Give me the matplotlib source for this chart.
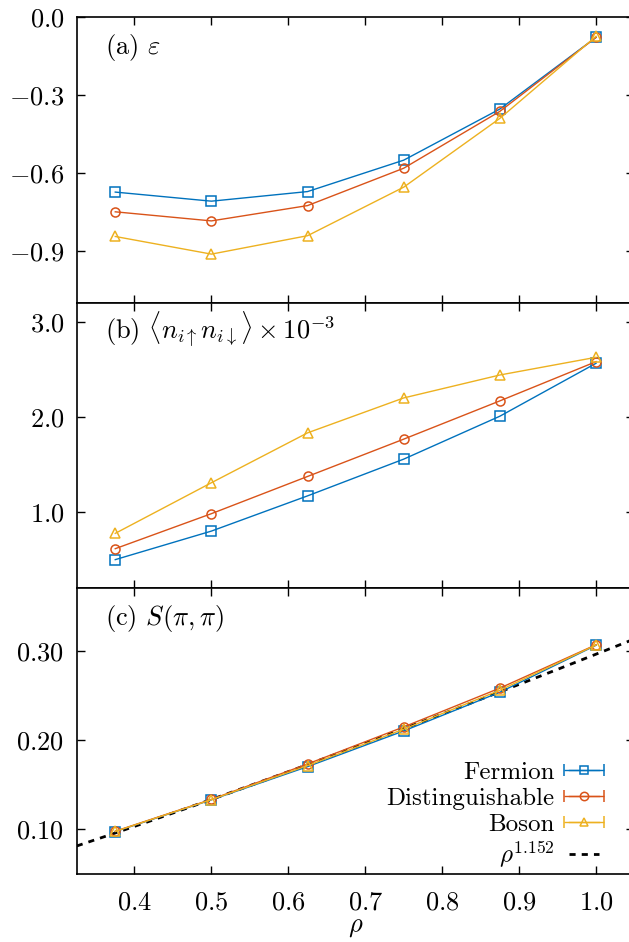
import matplotlib
matplotlib.use('Agg')
import matplotlib.pyplot as plt
from matplotlib.ticker import FuncFormatter
from matplotlib.legend_handler import HandlerErrorbar
import numpy as np

plt.rcParams['font.family'] = 'serif'
plt.rcParams['font.serif'] = ['cmr10', 'DejaVu Serif']
plt.rcParams['mathtext.fontset'] = 'cm'
plt.rcParams['axes.unicode_minus'] = False
plt.rcParams['axes.formatter.use_mathtext'] = True

# densities
rho = [0.375, 0.5, 0.625, 0.75, 0.875, 1.0]

# (a) energy
eps_fermion = [-0.674, -0.709, -0.672, -0.551, -0.354, -0.078]
eps_disting = [-0.750, -0.785, -0.726, -0.582, -0.363, -0.078]
eps_boson = [-0.845, -0.913, -0.842, -0.655, -0.390, -0.074]

# (b) double occupancy x 1e-3
docc_fermion = [0.50, 0.80, 1.17, 1.556, 2.007, 2.563]
docc_disting = [0.615, 0.983, 1.374, 1.766, 2.168, 2.58]
docc_boson = [0.776, 1.308, 1.832, 2.199, 2.44, 2.626]

# (c) structure factor
s_fermion = [0.0972, 0.1328, 0.1700, 0.2100, 0.2534, 0.3060]
s_disting = [0.0976, 0.1333, 0.1730, 0.2145, 0.2580, 0.3066]
s_boson = [0.0974, 0.1330, 0.1712, 0.2120, 0.2556, 0.3063]

# power-law fit
fit_exponent = 1.152
fit_prefactor = 0.296

names = ['Fermion', 'Distinguishable', 'Boson']
colors = ['#0072BD', '#D95319', '#EDB120']
markers = ['s', 'o', '^']

fig = plt.figure(figsize=(6.29, 9.42), dpi=100)
left, width = 0.1221, 0.8866
bottom, h = 0.0725, 0.3031
axes = [fig.add_axes([left, bottom + (2 - i) * h, width, h]) for i in range(3)]

panels = [
    (axes[0], [eps_fermion, eps_disting, eps_boson], (-1.1, 0.0), [0.0, -0.3, -0.6, -0.9], 1,
     r'(a) $\varepsilon$'),
    (axes[1], [docc_fermion, docc_disting, docc_boson], (0.2, 3.2), [1.0, 2.0, 3.0], 1,
     r'(b) $\langle n_{i\uparrow}n_{i\downarrow}\rangle\times 10^{-3}$'),
    (axes[2], [s_fermion, s_disting, s_boson], (0.05, 0.37), [0.10, 0.20, 0.30], 2,
     r'(c) $S(\pi,\pi)$'),
]

for ax, series, ylim, yticks, dec, label in panels:
    for ys, c, m in zip(series, colors, markers):
        ax.plot(rho, ys, color=c, marker=m, mfc='none', mec=c, ms=6.5, mew=1.1, lw=1.0)
    ax.set_xlim(0.325, 1.05)
    ax.set_ylim(*ylim)
    ax.set_yticks(yticks)
    ax.yaxis.set_major_formatter(FuncFormatter(lambda v, p, d=dec: '$%.*f$' % (d, v)))
    ax.set_xticks([0.4, 0.5, 0.6, 0.7, 0.8, 0.9, 1.0])
    ax.tick_params(direction='in', top=True, right=True, length=6, width=1.0, labelsize=19)
    ax.tick_params(axis='y', pad=9)
    ax.tick_params(axis='x', pad=12)
    for s in ax.spines.values():
        s.set_linewidth(1.2)
    ax.text(0.05, 0.87, label, transform=ax.transAxes, fontsize=19, va='baseline')
    if ax is not axes[2]:
        ax.tick_params(labelbottom=False)

axes[2].xaxis.set_major_formatter(FuncFormatter(lambda v, p: '$%.1f$' % v))
axes[2].set_xlabel(r'$\rho$', fontsize=19, labelpad=1)

# fit curve
xf = np.linspace(0.325, 1.05, 200)
axes[2].plot(xf, fit_prefactor * xf ** fit_exponent, 'k--', lw=2.0, dashes=(2.2, 2.2), zorder=1)

# legend proxies with horizontal error bars
handles = []
for n, c, m in zip(names, colors, markers):
    eb = axes[2].errorbar([np.nan], [np.nan], xerr=[0.0], color=c, marker=m, mfc='none',
                          mec=c, ms=6, mew=1.1, lw=1.0, capsize=4, label=n)
    handles.append(eb)
fit_line, = axes[2].plot([], [], 'k--', lw=2.0, dashes=(2.2, 2.2))
handles.append(fit_line)
labels = names + [r'$\rho^{%s}$' % fit_exponent]

axes[2].legend(handles, labels, loc='lower right', bbox_to_anchor=(0.958, -0.03),
               frameon=False, markerfirst=False, fontsize=18, handlelength=1.2,
               handletextpad=0.55, labelspacing=0.14, borderpad=0,
               handler_map={type(handles[0]): HandlerErrorbar(xerr_size=0.8)})

fig.savefig('out.png', dpi=100)
